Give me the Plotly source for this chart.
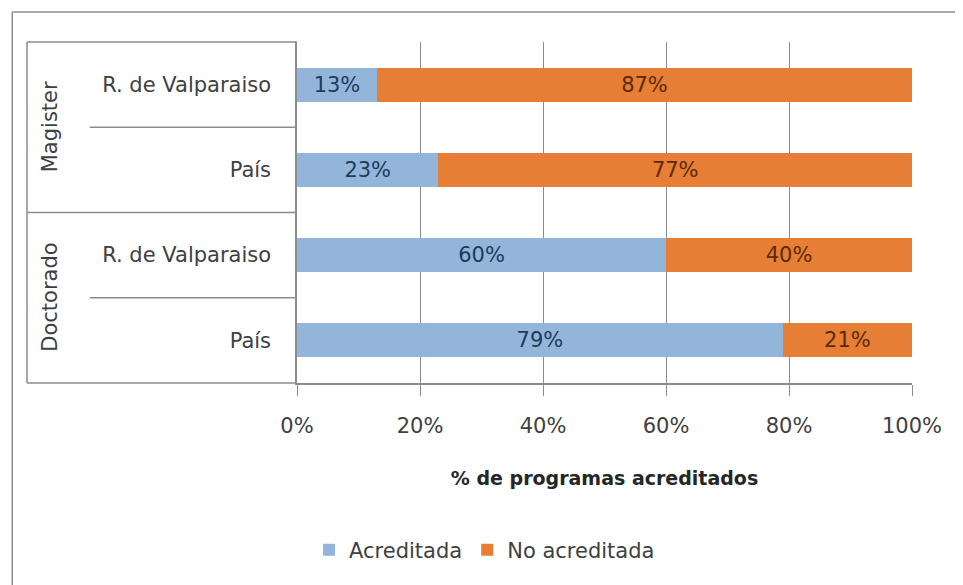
import plotly.graph_objects as go

# datos (de arriba hacia abajo)
grupos = ["Magister", "Magister", "Doctorado", "Doctorado"]
programas = ["R. de Valparaiso", "País", "R. de Valparaiso", "País"]
acreditada = [13, 23, 60, 79]
no_acreditada = [87, 77, 40, 21]
ticks_x = [0, 20, 40, 60, 80, 100]
ticks_x_txt = ["0%", "20%", "40%", "60%", "80%", "100%"]

# clave unica por fila, se muestra solo el programa
claves = [f"{g} | {p}" for g, p in zip(grupos, programas)]

fuente = "DejaVu Sans"
gris = "#8c8c8c"

fig = go.Figure()

fig.add_trace(go.Bar(
    y=claves, x=acreditada, orientation="h", name="Acreditada",
    marker=dict(color="#93b5da", line=dict(width=0)),
    text=[f"{v}%" for v in acreditada], textposition="inside",
    insidetextanchor="middle", textangle=0,
    textfont=dict(family=fuente, size=21, color="#1f3a5a"),
))
fig.add_trace(go.Bar(
    y=claves, x=no_acreditada, orientation="h", name="No acreditada",
    marker=dict(color="#e67e35", line=dict(width=0)),
    text=[f"{v}%" for v in no_acreditada], textposition="inside",
    insidetextanchor="middle", textangle=0,
    textfont=dict(family=fuente, size=21, color="#5c2a05"),
))

# cajas y separadores del eje de categorias (decoracion)
lineas = [
    dict(x0=-0.463, x1=1.078, y0=1.088, y1=1.088),   # borde exterior
    dict(x0=-0.463, x1=-0.463, y0=1.088, y1=-0.7),
    dict(x0=1.078, x1=1.078, y0=1.088, y1=-0.7),
    dict(x0=-0.439, x1=-0.439, y0=1.0, y1=0.0),       # caja categorias
    dict(x0=-0.439, x1=0, y0=1.0, y1=1.0),
    dict(x0=-0.439, x1=0, y0=0.5, y1=0.5),
    dict(x0=-0.439, x1=0, y0=0.0, y1=0.0),
    dict(x0=-0.337, x1=0, y0=0.75, y1=0.75),
    dict(x0=-0.337, x1=0, y0=0.25, y1=0.25),
]
for l in lineas:
    fig.add_shape(type="line", xref="paper", yref="paper",
                  line=dict(color=gris, width=1.5), **l)

# etiquetas de grupo (verticales)
nombres_grupo = list(dict.fromkeys(grupos))
for i, g in enumerate(nombres_grupo):
    fig.add_annotation(text=g, xref="paper", yref="paper",
                       x=-0.4016, y=1 - (i + 0.5) / len(nombres_grupo),
                       xanchor="center", yanchor="middle",
                       textangle=-90, showarrow=False,
                       font=dict(family=fuente, size=21, color="#404040"))

fig.update_layout(
    width=963, height=585,
    barmode="stack", bargap=0.6,
    paper_bgcolor="white", plot_bgcolor="white",
    margin=dict(l=289, r=59, t=34, b=210, autoexpand=False),
    font=dict(family=fuente, size=21, color="#404040"),
    showlegend=True,
    legend=dict(orientation="h", x=0.305, xanchor="center", y=-0.43, yanchor="top",
                font=dict(family=fuente, size=21, color="#404040"),
                itemwidth=30, traceorder="normal"),
    xaxis=dict(range=[0, 100], tickvals=ticks_x, ticktext=ticks_x_txt,
               showgrid=True, gridcolor=gris, gridwidth=1,
               showline=True, linecolor=gris, linewidth=1.5,
               ticks="outside", ticklen=11, tickcolor=gris,
               ticklabelstandoff=12,
               zeroline=False, fixedrange=True, automargin=False,
               title=dict(text="<b>% de programas acreditados</b>",
                          font=dict(family=fuente, size=19, color="#262626"),
                          standoff=35)),
    yaxis=dict(type="category", autorange="reversed",
               tickvals=claves, ticktext=programas,
               showline=True, linecolor=gris, linewidth=1.5,
               ticks="", ticklabelstandoff=20, automargin=False,
               showgrid=False, fixedrange=True),
)

fig.write_html("out.html")
